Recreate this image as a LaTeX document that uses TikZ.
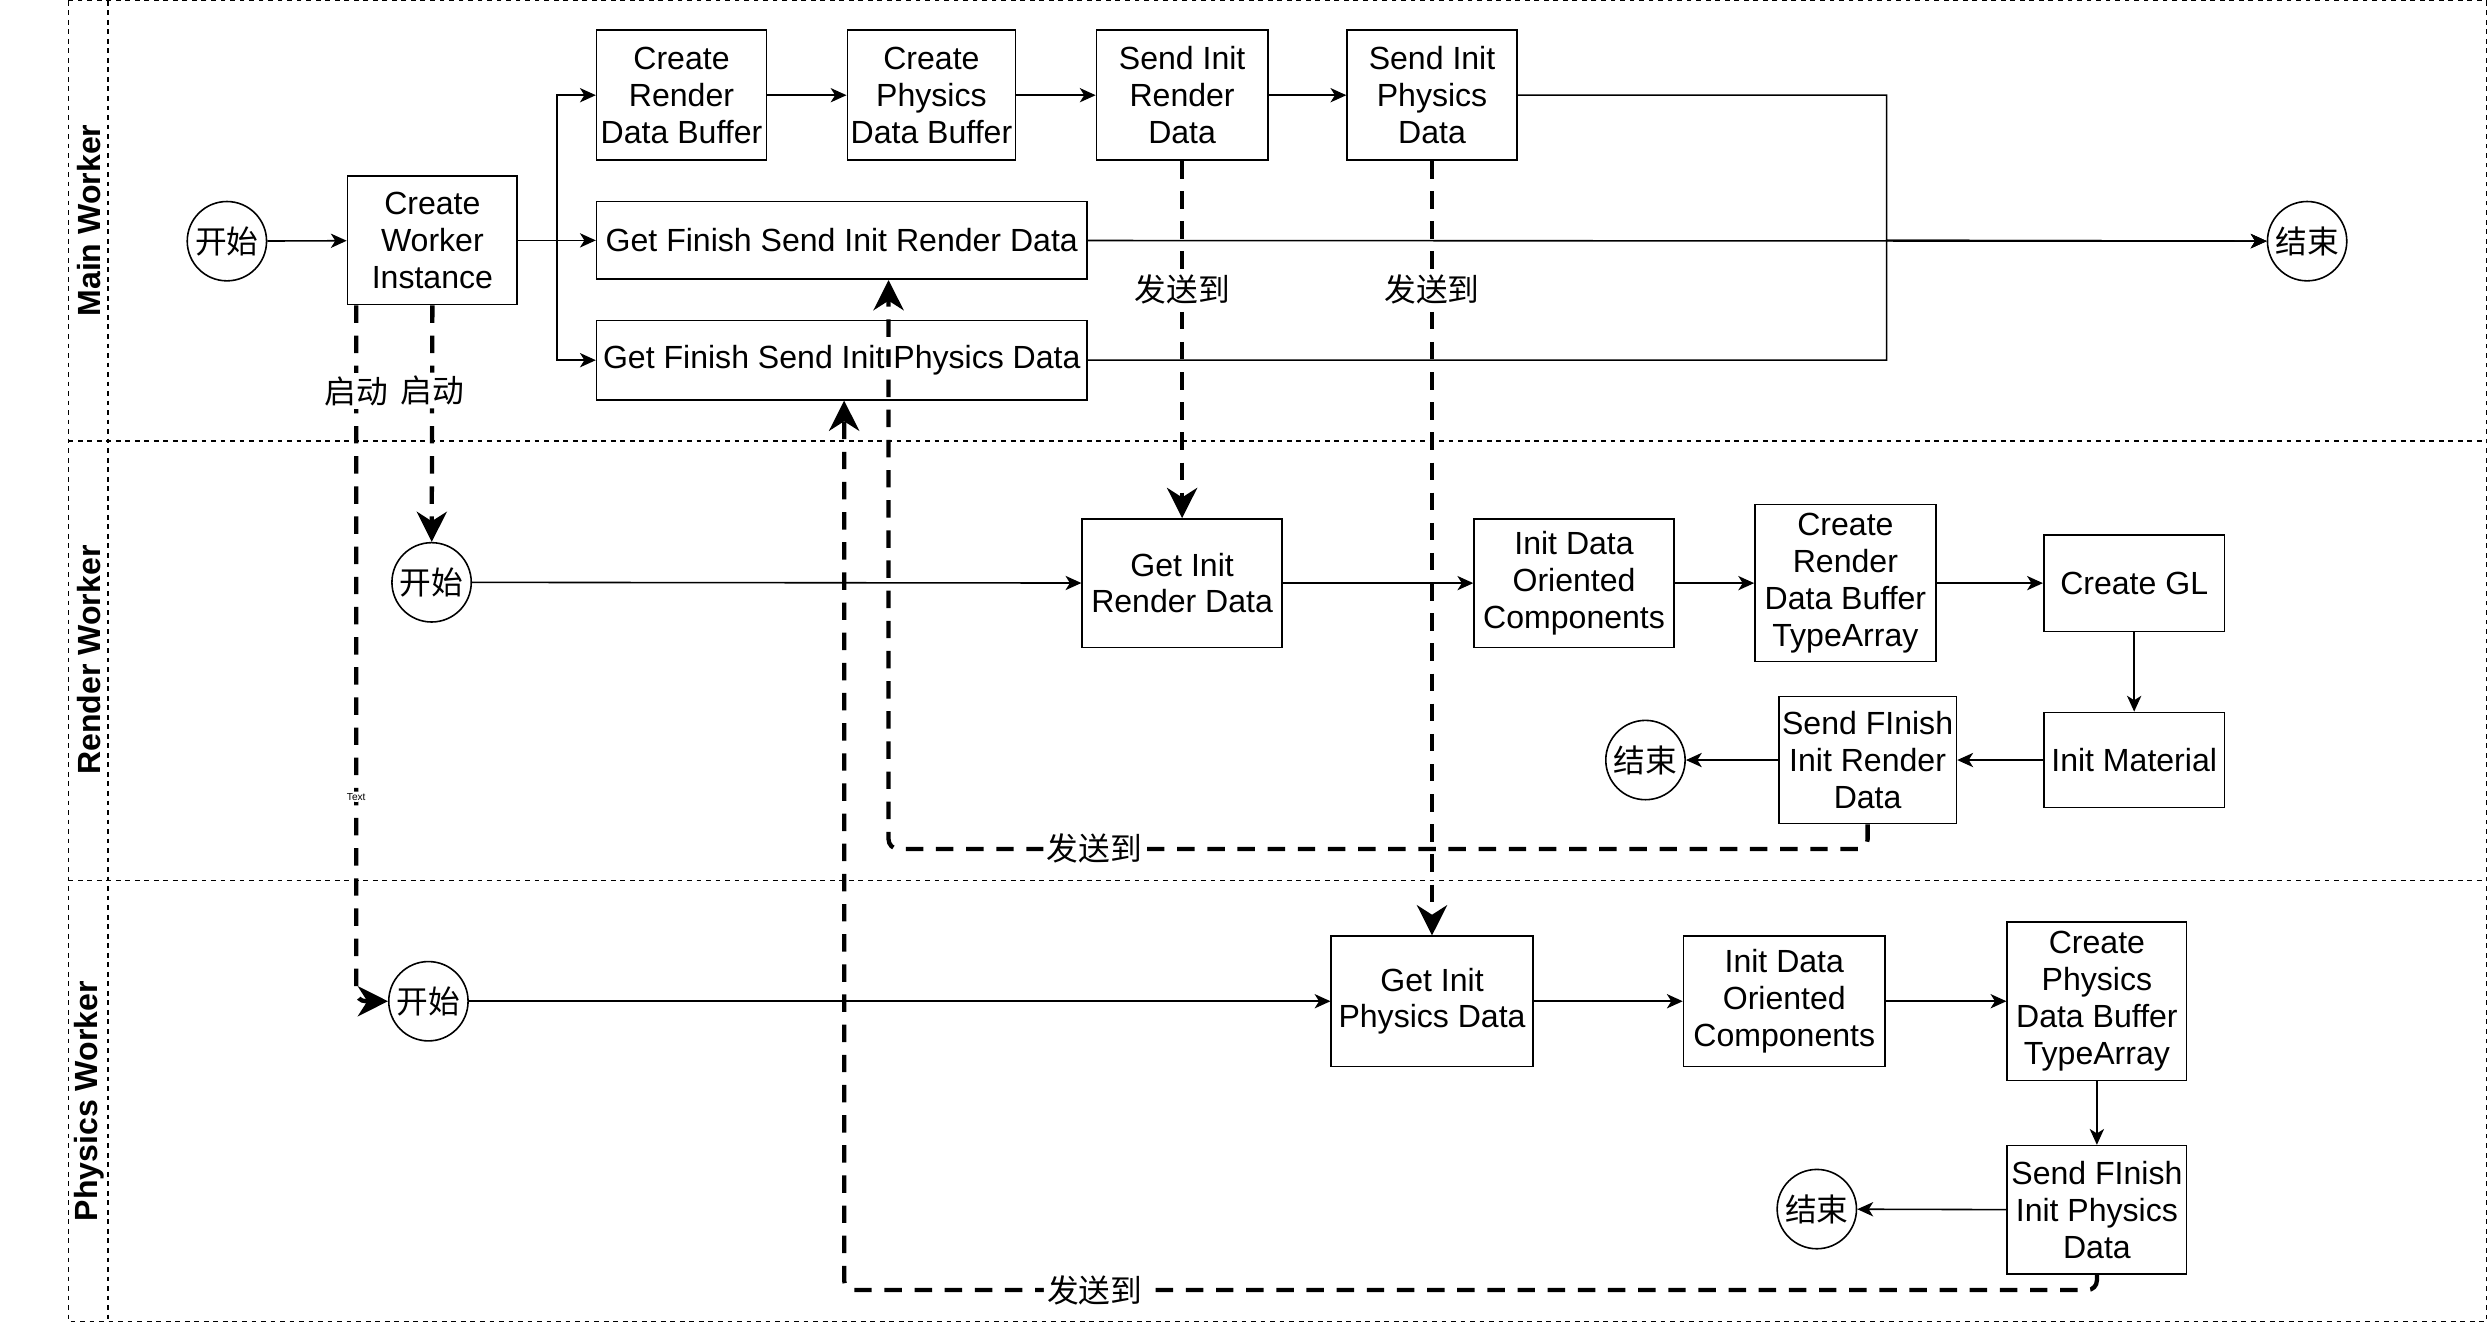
\documentclass[tikz,border=0pt]{standalone}
\usepackage{fontspec}
\setmainfont{Liberation Sans}
\newfontfamily\cjk{Noto Sans CJK SC}
\usetikzlibrary{arrows.meta}

\tikzstyle{box} = [draw,line width=0.5pt,fill=white,align=center,inner sep=1pt]
\tikzstyle{term} = [draw,circle,line width=0.5pt,fill=white,minimum size=25pt,inner sep=0pt,font=\cjk]
\tikzstyle{b} = [draw,line width=0.5pt,-{Stealth[length=5pt,width=4.5pt,inset=1.4pt]}]
\tikzstyle{msg} = [draw,line width=1.35pt,dash pattern=on 5.5pt off 4pt,rounded corners=3pt,-{Stealth[length=9.5pt,width=9.5pt,inset=3pt]}]
\tikzstyle{lbl} = [fill=white,inner sep=1pt,font=\cjk]
\tikzstyle{lane} = [draw,line width=0.4pt,dash pattern=on 1.5pt off 1.5pt]

\begin{document}
\begin{tikzpicture}[x=0.5pt,y=-0.5pt,every node/.style={font=\fontsize{10.1}{11.6}\selectfont}]
\useasboundingbox (0,0) rectangle (1568,834);
\draw [lane] (43,0.5) rectangle (1567,833);
\draw [lane] (68,0.5) -- (68,833);
\draw [lane] (43,278) -- (1567,278);
\draw [lane] (43,555) -- (1567,555);
\node (mainlbl) at (56,139) [rotate=90,font=\fontsize{10.1}{11.6}\selectfont\bfseries] {Main Worker};
\node (renderlbl) at (56,416) [rotate=90,font=\fontsize{10.1}{11.6}\selectfont\bfseries] {Render Worker};
\node (physicslbl) at (56,694) [rotate=90,font=\fontsize{10.1}{11.6}\selectfont\bfseries] {Physics Worker};

\node (start1) at (143,152) [term] {开始};
\node (end1) at (1454,152) [term] {结束};
\node (cwi) at (272.5,151.5) [box,minimum width=53.5pt,minimum height=40.5pt] {Create\\Worker\\Instance};
\node (crdb) at (429.5,60) [box,minimum width=53.5pt,minimum height=41pt] {Create\\Render\\Data Buffer};
\node (cpdb) at (587,60) [box,minimum width=53pt,minimum height=41pt] {Create\\Physics\\Data Buffer};
\node (sird) at (745,60) [box,minimum width=54pt,minimum height=41pt] {Send Init\\Render\\Data};
\node (sipd) at (902.5,60) [box,minimum width=53.5pt,minimum height=41pt] {Send Init\\Physics\\Data};
\node (gfr) at (530.5,151.5) [box,minimum width=154.5pt,minimum height=24.5pt] {Get Finish Send Init Render Data};
\node (gfp) at (530.5,227) [box,minimum width=154.5pt,minimum height=25pt] {Get Finish Send Init Physics Data};
\coordinate (fork) at (351,151.5);
\coordinate (join) at (1189,151.5);

\node (start2) at (272,367) [term] {开始};
\node (gird) at (745,367.5) [box,minimum width=63pt,minimum height=40.5pt] {Get Init\\Render Data};
\node (idoc1) at (992,367.5) [box,minimum width=63pt,minimum height=40.5pt] {Init Data\\Oriented\\Components};
\node (crdbt) at (1163,367.5) [box,minimum width=57pt,minimum height=49.5pt] {Create\\Render\\Data Buffer\\TypeArray};
\node (cgl) at (1345,367.5) [box,minimum width=57pt,minimum height=30.5pt] {Create GL};
\node (imat) at (1345,479) [box,minimum width=57pt,minimum height=30pt] {Init Material};
\node (sfird) at (1177,479) [box,minimum width=56pt,minimum height=40pt] {Send FInish\\Init Render\\Data};
\node (end2) at (1037,479) [term] {结束};

\node (start3) at (270,631) [term] {开始};
\node (gipd) at (902.5,631) [box,minimum width=63.5pt,minimum height=41pt] {Get Init\\Physics Data};
\node (idoc2) at (1124.5,631) [box,minimum width=63.5pt,minimum height=41pt] {Init Data\\Oriented\\Components};
\node (cpdbt) at (1321.5,631) [box,minimum width=56.5pt,minimum height=50pt] {Create\\Physics\\Data Buffer\\TypeArray};
\node (sfipd) at (1321.5,762.5) [box,minimum width=56.5pt,minimum height=40.5pt] {Send FInish\\Init Physics\\Data};
\node (end3) at (1145,762) [term] {结束};
\coordinate (rback) at (1177,535);
\coordinate (pback) at (1321.5,813);

\draw [b] (start1) -- (cwi);
\draw [b] (cwi.east) -- (fork) |- (crdb);
\draw [b] (cwi) -- (gfr);
\draw [b] (cwi.east) -- (fork) |- (gfp);
\draw [b] (crdb) -- (cpdb);
\draw [b] (cpdb) -- (sird);
\draw [b] (sird) -- (sipd);
\draw [b] (sipd) -| (join) -- (end1);
\draw [b] (gfp) -| (join) -- (end1);
\draw [b] (gfr) -- (end1);

\draw [b] (start2) -- (gird);
\draw [b] (gird) -- (idoc1);
\draw [b] (idoc1) -- (crdbt);
\draw [b] (crdbt) -- (cgl);
\draw [b] (cgl) -- (imat);
\draw [b] (imat) -- (sfird);
\draw [b] (sfird) -- (end2);

\draw [b] (start3) -- (gipd);
\draw [b] (gipd) -- (idoc2);
\draw [b] (idoc2) -- (cpdbt);
\draw [b] (cpdbt) -- (sfipd);
\draw [b] (sfipd) -- (end3);

\draw [msg] (cwi.south) -- (start2) node [lbl,pos=0.36] (lblr) {启动};
\draw [msg] ([xshift=3pt]cwi.south west) |- (start3)
  node [lbl,pos=0.0615] (lblp) {启动}
  node [fill=white,inner sep=0.5pt,pos=0.353,font=\fontsize{3.2}{4}\selectfont] (lbltext) {Text};
\draw [msg] (sird) -- (gird) node [lbl,pos=0.36] (lbls1) {发送到};
\draw [msg] (sipd) -- (gipd) node [lbl,pos=0.166] (lbls2) {发送到};
\draw [msg] (sfird) -- (rback) -| ([xshift=14.75pt]gfr.south) node [lbl,pos=0.395] (lbls3) {发送到};
\draw [msg] (sfipd) -- (pback) -| ([xshift=0.75pt]gfp.south) node [lbl,pos=0.40] (lbls4) {发送到};
\end{tikzpicture}
\end{document}
